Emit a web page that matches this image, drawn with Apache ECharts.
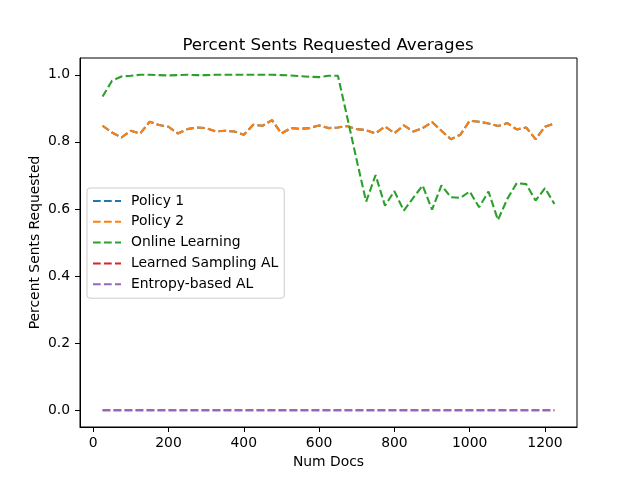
<!DOCTYPE html>
<html lang="en">
<head>
    <meta charset="UTF-8">
    <title>Percent Sents Requested Averages</title>
    <script src="https://cdn.jsdelivr.net/npm/echarts@6.0.0/dist/echarts.min.js"></script>
    <style>
        html, body { margin: 0; padding: 0; background: #fff; }
    </style>
</head>
<body>
    <div id="main" style="width:640px;height:480px;"></div>
</body>
    <script>
        // data
        var numDocs = [25, 50, 75, 100, 125, 150, 175, 200, 225, 250,
            275, 300, 325, 350, 375, 400, 425, 450, 475, 500,
            525, 550, 575, 600, 625, 650, 675, 700, 725, 750,
            775, 800, 825, 850, 875, 900, 925, 950, 975, 1000,
            1025, 1050, 1075, 1100, 1125, 1150, 1175, 1200, 1225];

        var policy2 = [0.848, 0.828, 0.813, 0.833, 0.825, 0.860, 0.850, 0.845, 0.825, 0.838,
            0.843, 0.841, 0.831, 0.833, 0.831, 0.821, 0.851, 0.848, 0.865, 0.825,
            0.841, 0.839, 0.841, 0.849, 0.841, 0.843, 0.847, 0.838, 0.835, 0.825,
            0.846, 0.826, 0.849, 0.831, 0.841, 0.859, 0.833, 0.808, 0.821, 0.863,
            0.860, 0.855, 0.847, 0.856, 0.837, 0.843, 0.808, 0.845, 0.855];
        // policy 1 sits right under policy 2
        var policy1 = policy2.slice();

        var onlineLearning = [0.935, 0.982, 0.995, 0.997, 1.0, 1.0, 0.999, 0.998, 0.999, 1.0,
            0.999, 0.999, 1.0, 1.0, 1.0, 1.0, 1.0, 1.0, 1.0, 0.999,
            0.998, 0.996, 0.994, 0.993, 0.997, 0.997, 0.872, 0.745, 0.622, 0.701,
            0.610, 0.653, 0.595, 0.633, 0.670, 0.598, 0.670, 0.635, 0.633, 0.652,
            0.605, 0.652, 0.567, 0.630, 0.677, 0.674, 0.625, 0.662, 0.615];

        var learnedSampling = [0, 0, 0, 0, 0, 0, 0, 0, 0, 0,
            0, 0, 0, 0, 0, 0, 0, 0, 0, 0,
            0, 0, 0, 0, 0, 0, 0, 0, 0, 0,
            0, 0, 0, 0, 0, 0, 0, 0, 0, 0,
            0, 0, 0, 0, 0, 0, 0, 0, 0];
        var entropyBased = learnedSampling.slice();

        var seriesNames = ['Policy 1', 'Policy 2', 'Online Learning', 'Learned Sampling AL', 'Entropy-based AL'];
        var seriesColors = ['#1f77b4', '#ff7f0e', '#2ca02c', '#d62728', '#9467bd'];
        var seriesValues = [policy1, policy2, onlineLearning, learnedSampling, entropyBased];

        var xTicks = [0, 200, 400, 600, 800, 1000, 1200];
        var yTicks = [0, 0.2, 0.4, 0.6, 0.8, 1.0];

        var FONT = 'DejaVu Sans';

        var chart = echarts.init(document.getElementById('main'));

        var series = seriesNames.map(function (name, i) {
            return {
                name: name,
                type: 'line',
                showSymbol: false,
                symbol: 'none',
                animation: false,
                color: seriesColors[i],
                lineStyle: { color: seriesColors[i], width: 2.1, type: [7.7, 3.3] },
                data: numDocs.map(function (d, j) { return [d, seriesValues[i][j]]; })
            };
        });

        chart.setOption({
            backgroundColor: '#fff',
            animation: false,
            title: {
                text: 'Percent Sents Requested Averages',
                left: 323,
                top: 32,
                textAlign: 'center',
                textStyle: { fontFamily: FONT, fontSize: 16.7, fontWeight: 'normal', color: '#000' }
            },
            legend: {
                orient: 'vertical',
                left: 87,
                top: 188,
                padding: [6, 6, 7, 5],
                itemWidth: 28,
                itemHeight: 14,
                itemGap: 6.8,
                borderColor: '#cccccc',
                borderWidth: 1,
                borderRadius: 3,
                backgroundColor: 'rgba(255,255,255,0.8)',
                itemStyle: { opacity: 0 },
                textStyle: { fontFamily: FONT, fontSize: 13.9, color: '#000', padding: [0, 0, 0, 5] },
                data: seriesNames
            },
            grid: {
                show: true,
                left: 80,
                right: 63,
                top: 58,
                bottom: 53,
                borderColor: '#000',
                borderWidth: 1,
                containLabel: false,
                outerBoundsMode: 'none'
            },
            xAxis: {
                type: 'value',
                min: -35,
                max: 1285,
                name: 'Num Docs',
                nameLocation: 'middle',
                nameGap: 28,
                nameMoveOverlap: false,
                nameTextStyle: { fontFamily: FONT, fontSize: 13.9, color: '#000' },
                axisLine: { show: true, onZero: false, lineStyle: { color: '#000', width: 1 } },
                axisTick: { show: true, length: 5, customValues: xTicks, lineStyle: { color: '#000' } },
                axisLabel: {
                    customValues: xTicks,
                    margin: 9,
                    fontFamily: FONT, fontSize: 13.9, color: '#000',
                    formatter: function (v) { return String(v); }
                },
                splitLine: { show: false }
            },
            yAxis: {
                type: 'value',
                min: -0.05,
                max: 1.05,
                name: 'Percent Sents Requested',
                nameLocation: 'middle',
                nameGap: 38,
                nameMoveOverlap: false,
                nameTextStyle: { fontFamily: FONT, fontSize: 13.9, color: '#000' },
                axisLine: { show: true, onZero: false, lineStyle: { color: '#000', width: 1 } },
                axisTick: { show: true, length: 5, customValues: yTicks, lineStyle: { color: '#000' } },
                axisLabel: {
                    customValues: yTicks,
                    margin: 10,
                    fontFamily: FONT, fontSize: 13.9, color: '#000',
                    formatter: function (v) { return v.toFixed(1); }
                },
                splitLine: { show: false }
            },
            series: series
        });
    </script>
</html>
